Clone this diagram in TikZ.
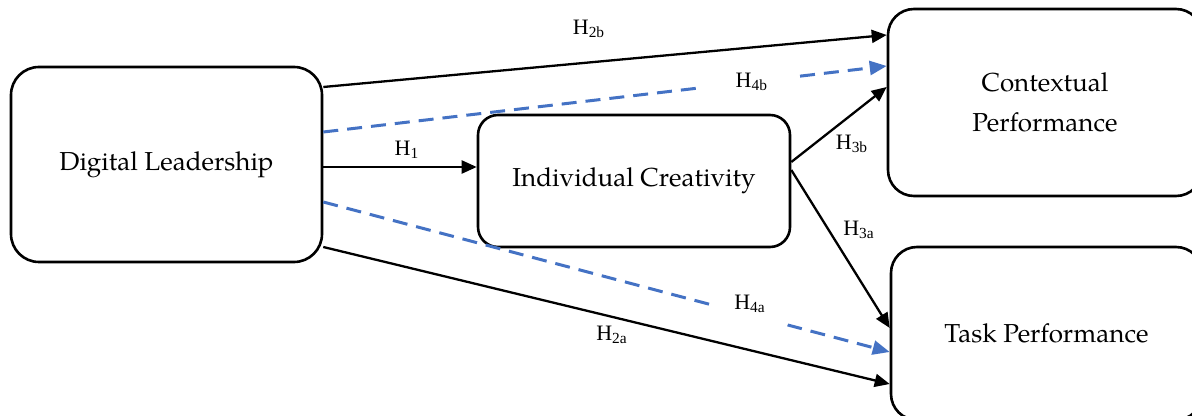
\documentclass[tikz,border=0pt]{standalone}
\usepackage{fontspec}
\setmainfont{Liberation Serif}
\newfontfamily\palfont{texgyrepagella-regular.otf}
\usetikzlibrary{arrows.meta}
\definecolor{dashblue}{HTML}{4472C4}
\tikzset{
  box/.style={draw, line width=1.3pt, rounded corners=#1, align=center, inner sep=0pt,
    font=\palfont\fontsize{13}{20}\selectfont},
  box/.default=13pt,
  arr/.style={line width=1.15pt, -{Triangle[length=7.5pt,width=6.5pt]}},
  darr/.style={line width=1.5pt, dashblue, dash pattern=on 7.5pt off 4.5pt,
    -{Triangle[length=8.5pt,width=7pt]}},
  lbl/.style={font=\fontsize{11}{13}\selectfont, inner sep=1pt},
  gap/.style={fill=white, inner sep=0pt, minimum height=#1},
  gap/.default=6pt
}
\begin{document}
\begin{tikzpicture}[x=0.5pt,y=-0.5pt]
\useasboundingbox (0,0) rectangle (1192,416);
\clip (0,0) rectangle (1192,416);
% boxes
\node[box=14pt, minimum width=155.5pt, minimum height=97.5pt] (DL) at (166.5,164.5) {Digital Leadership};
\node[box=10pt, minimum width=156pt, minimum height=66pt] (IC) at (634,181) {Individual Creativity};
\node[box=13pt, minimum width=157pt, minimum height=93.5pt] (CP) at (1045,102.5) {Contextual\\Performance};
\node[box=13pt, minimum width=155.5pt, minimum height=86.5pt] (TP) at (1046.5,333.5) {Task Performance};
% solid paths
\draw[arr] ([yshift=38.75pt]DL.east) -- ([yshift=33.75pt]CP.west);
\draw[arr] ([yshift=-1.25pt]DL.east) coordinate (h1s) -- (h1s -| IC.west);
\draw[arr] ([yshift=-41.25pt]DL.east) -- ([yshift=-25.25pt]TP.west);
\draw[arr] ([yshift=9.5pt]IC.east) -- ([yshift=7.75pt]CP.west);
\draw[arr] ([yshift=5.5pt]IC.east) -- ([yshift=2.75pt]TP.west);
% dashed paths
\draw[darr] ([yshift=16.25pt]DL.east) -- ([yshift=18.25pt]CP.west)
  node[pos=0.7606, gap=14pt, minimum width=47.5pt, text=black, lbl, inner sep=0pt] (g4b) {H\textsubscript{4b}};
\draw[darr] ([yshift=-18.75pt]DL.east) -- ([yshift=-9.25pt]TP.west)
  node[pos=0.7513, gap, sloped, minimum width=40pt] (g4a) {};
% labels
\node[lbl] (l2b) at (589,29) {H\textsubscript{2b}};
\node[lbl] (l1) at (407,150) {H\textsubscript{1}};
\node[lbl] (l3b) at (852,144) {H\textsubscript{3b}};
\node[lbl] (l3a) at (859,230) {H\textsubscript{3a}};
\node[lbl] (l4a) at (750,304) {H\textsubscript{4a}};
\node[lbl] (l2a) at (612,335) {H\textsubscript{2a}};
\end{tikzpicture}
\end{document}
